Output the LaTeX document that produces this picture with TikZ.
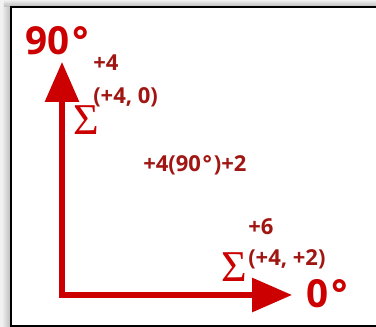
\documentclass[tikz,border=0pt]{standalone}
\usepackage{fontspec}
\setmainfont{Open Sans}
\newfontfamily\sigmafont{Liberation Serif}
\definecolor{axisred}{RGB}{204, 0, 0}
\definecolor{labelred}{RGB}{160, 22, 18}
\usetikzlibrary{arrows.meta}
\newcommand{\degs}{\kern0.08em°}

\begin{document}
\begin{tikzpicture}[x=0.75pt, y=-0.75pt,
    axis/.style={line width=3.9pt, axisred, -{Triangle[length=30pt, width=25pt]}},
    bigdeg/.style={anchor=base west, inner sep=0pt, text=axisred, font=\fontsize{29}{29}\selectfont\bfseries},
    vec/.style={anchor=base west, inner sep=0pt, text=labelred, font=\fontsize{16.5}{16.5}\selectfont\bfseries},
    sumsign/.style={anchor=base west, inner sep=0pt, text=axisred, font=\fontsize{33}{33}\sigmafont}]
  \useasboundingbox (0, 0) rectangle (376, 327);
  % frame with shadow
  \fill[gray!10] (0, 0) rectangle (376, 327);
  \shade[left color=gray!12, right color=gray!55] (2, 4) rectangle (11, 327);
  \shade[top color=gray!12, bottom color=gray!55] (4, 0) rectangle (376, 7);
  \begin{scope}
    \clip (0, 0) rectangle (376, 327);
    \draw[fill=white, line width=1.2pt] (11, 7) rectangle (390, 326);
  \end{scope}

  % axes
  \coordinate (origin) at (62, 295);
  \coordinate (ytip) at (62, 62);
  \coordinate (xtip) at (292, 295);
  \draw[axis, line cap=rect] (origin) -- (ytip);
  \draw[axis, line cap=rect] (origin) -- (xtip);

  \node[bigdeg] (ylabel) at (25, 55) {90\degs};
  \node[bigdeg] (xlabel) at (306, 308) {0\degs};

  % first sum
  \node[vec] (upper) at (93, 71) {+4};
  \node[vec] (firstpair) at (93, 104) {(+4, 0)};
  \node[sumsign] (firstsum) at (73, 135) {Σ};

  \node[vec] (mixed) at (143, 172) {+4(90\degs\kern0.08em)+2};

  % second sum
  \node[vec] (lower) at (248, 235) {+6};
  \node[vec] (secondpair) at (248, 266) {(+4, +2)};
  \node[sumsign] (secondsum) at (221, 282) {Σ};
\end{tikzpicture}
\end{document}
